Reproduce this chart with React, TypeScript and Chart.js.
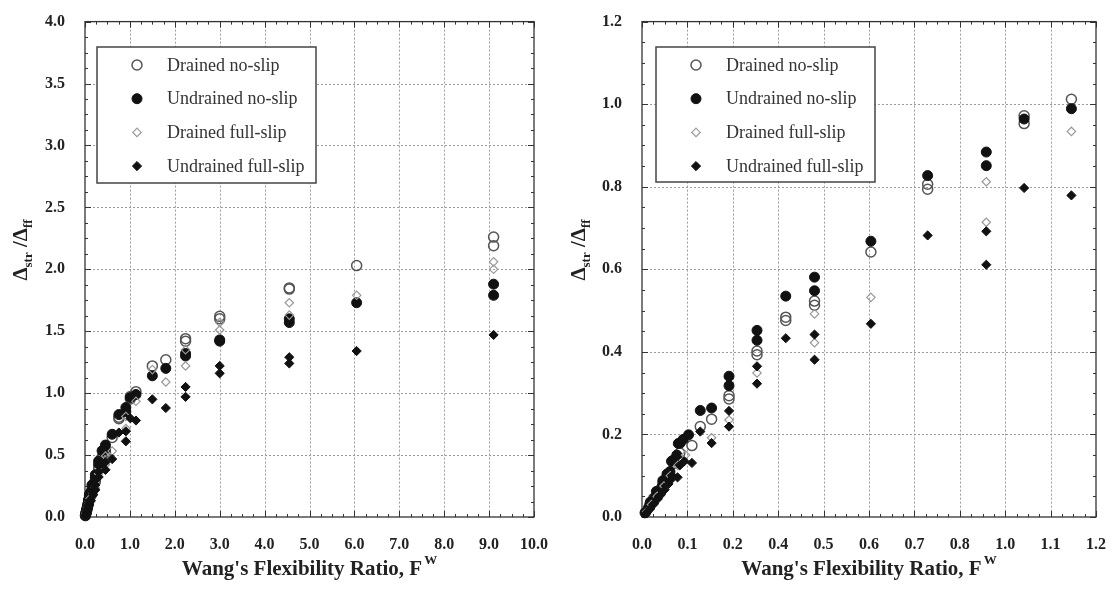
import React, { useEffect, useRef } from 'react';
import { Chart, registerables } from 'chart.js';

Chart.register(...registerables);

type Pt = [number, number];

// Normalised racking (Δstr/Δff) against Wang's flexibility ratio F^W.
// "Low" points lie in 0 ≤ F^W ≤ 1.2 and appear on both panels; "High" points only on the wide panel.
const drainedNoSlipLow: Pt[] = [
  [0.01, 0.012], [0.02, 0.028], [0.031, 0.045], [0.042, 0.06], [0.055, 0.08], [0.068, 0.1],
  [0.085, 0.13], [0.1, 0.155], [0.132, 0.173], [0.154, 0.219], [0.184, 0.237], [0.23, 0.294],
  [0.23, 0.286], [0.304, 0.402], [0.304, 0.393], [0.38, 0.484], [0.38, 0.476], [0.456, 0.523],
  [0.456, 0.513], [0.605, 0.642], [0.755, 0.806], [0.755, 0.794], [1.01, 0.972], [1.01, 0.953],
  [1.135, 1.012],
];
const drainedNoSlipHigh: Pt[] = [
  [1.5, 1.22], [1.8, 1.27], [2.24, 1.44], [2.24, 1.42], [3.0, 1.62], [3.0, 1.6],
  [4.55, 1.85], [4.55, 1.84], [6.05, 2.03], [9.1, 2.26], [9.1, 2.19],
];

const undrainedNoSlipLow: Pt[] = [
  [0.008, 0.01], [0.017, 0.022], [0.022, 0.036], [0.026, 0.035], [0.034, 0.047], [0.038, 0.062],
  [0.043, 0.06], [0.052, 0.072], [0.055, 0.088], [0.061, 0.088], [0.066, 0.104], [0.074, 0.11],
  [0.078, 0.135], [0.083, 0.138], [0.092, 0.15], [0.096, 0.178], [0.101, 0.179], [0.109, 0.188],
  [0.123, 0.199], [0.154, 0.258], [0.184, 0.264], [0.23, 0.341], [0.23, 0.318],
  [0.304, 0.452], [0.304, 0.428], [0.38, 0.535], [0.456, 0.581], [0.456, 0.548], [0.605, 0.668],
  [0.755, 0.827], [0.91, 0.884], [0.91, 0.851], [1.01, 0.964], [1.135, 0.989],
];
const undrainedNoSlipHigh: Pt[] = [
  [1.5, 1.14], [1.8, 1.2], [2.24, 1.32], [2.24, 1.3], [3.0, 1.43], [3.0, 1.42],
  [4.55, 1.6], [4.55, 1.57], [6.05, 1.73], [9.1, 1.88], [9.1, 1.79],
];

const drainedFullSlipLow: Pt[] = [
  [0.012, 0.012], [0.025, 0.03], [0.04, 0.05], [0.058, 0.075], [0.075, 0.1], [0.095, 0.125],
  [0.115, 0.15], [0.184, 0.192], [0.23, 0.235], [0.304, 0.349], [0.456, 0.492], [0.456, 0.422],
  [0.605, 0.532], [0.91, 0.812], [0.91, 0.714], [1.135, 0.934],
];
const drainedFullSlipHigh: Pt[] = [
  [1.5, 1.19], [1.8, 1.09], [2.24, 1.22], [2.24, 1.35], [3.0, 1.51], [3.0, 1.57],
  [4.55, 1.73], [4.55, 1.63], [6.05, 1.79], [9.1, 2.06], [9.1, 2.0],
];

const undrainedFullSlipLow: Pt[] = [
  [0.012, 0.01], [0.022, 0.02], [0.032, 0.032], [0.042, 0.044], [0.05, 0.054], [0.06, 0.066],
  [0.07, 0.08], [0.076, 0.09], [0.08, 0.1], [0.094, 0.096], [0.1, 0.125], [0.112, 0.135],
  [0.132, 0.131], [0.154, 0.207], [0.184, 0.179], [0.23, 0.257], [0.23, 0.219], [0.304, 0.365],
  [0.304, 0.323], [0.38, 0.433], [0.456, 0.442], [0.456, 0.381], [0.605, 0.468], [0.755, 0.682],
  [0.91, 0.692], [0.91, 0.611], [1.01, 0.797], [1.135, 0.779],
];
const undrainedFullSlipHigh: Pt[] = [
  [1.5, 0.95], [1.8, 0.88], [2.24, 1.05], [2.24, 0.97], [3.0, 1.22], [3.0, 1.16],
  [4.55, 1.29], [4.55, 1.24], [6.05, 1.34], [9.1, 1.47],
];

const seriesNames = ['Drained no-slip', 'Undrained no-slip', 'Drained full-slip', 'Undrained full-slip'];

// Axis ticks and their printed labels
const wideXTicks = [0, 1, 2, 3, 4, 5, 6, 7, 8, 9, 10];
const wideXLabels = ['0.0', '1.0', '2.0', '3.0', '4.0', '5.0', '6.0', '7.0', '8.0', '9.0', '10.0'];
const wideYTicks = [0, 0.5, 1, 1.5, 2, 2.5, 3, 3.5, 4];
const wideYLabels = ['0.0', '0.5', '1.0', '1.5', '2.0', '2.5', '3.0', '3.5', '4.0'];

const zoomXTicks = [0, 0.12, 0.24, 0.36, 0.48, 0.6, 0.72, 0.84, 0.96, 1.08, 1.2];
const zoomXLabels = ['0.0', '0.1', '0.2', '0.4', '0.5', '0.6', '0.7', '0.8', '1.0', '1.1', '1.2'];
const zoomYTicks = [0, 0.2, 0.4, 0.6, 0.8, 1.0, 1.2];
const zoomYLabels = ['0.0', '0.2', '0.4', '0.6', '0.8', '1.0', '1.2'];

const SERIF = "'Liberation Serif', 'Times New Roman', serif";

type Marker = { shape: 'circle' | 'diamond'; r: number; fill: string; stroke: string; lw: number };
const markers: Marker[] = [
  { shape: 'circle', r: 5, fill: 'rgba(255,255,255,0)', stroke: '#555', lw: 1.5 },
  { shape: 'circle', r: 5, fill: '#111', stroke: '#111', lw: 1 },
  { shape: 'diamond', r: 4.2, fill: 'rgba(255,255,255,0)', stroke: '#999', lw: 1.2 },
  { shape: 'diamond', r: 4.6, fill: '#111', stroke: '#111', lw: 1 },
];

type PanelCfg = {
  xMin: number; xMax: number; yMin: number; yMax: number;
  xTicks: number[]; xLabels: string[]; yTicks: number[]; yLabels: string[];
  series: Pt[][];
  yAxisWidth: number; padRight: number;
  legend: { x: number; y: number; w: number; h: number };
};

function drawMarker(ctx: CanvasRenderingContext2D, m: Marker, x: number, y: number) {
  ctx.beginPath();
  if (m.shape === 'circle') {
    ctx.arc(x, y, m.r, 0, Math.PI * 2);
  } else {
    ctx.moveTo(x, y - m.r);
    ctx.lineTo(x + m.r, y);
    ctx.lineTo(x, y + m.r);
    ctx.lineTo(x - m.r, y);
    ctx.closePath();
  }
  ctx.fillStyle = m.fill;
  ctx.fill();
  ctx.lineWidth = m.lw;
  ctx.strokeStyle = m.stroke;
  ctx.stroke();
}

function makeDecor(cfg: PanelCfg) {
  return {
    id: 'panelDecor',
    beforeDatasetsDraw(chart: any) {
      const { ctx, chartArea: a } = chart;
      const xs = chart.scales.x;
      const ys = chart.scales.y;
      ctx.save();
      // dotted grid at the major ticks
      ctx.strokeStyle = '#9c9c9c';
      ctx.lineWidth = 1;
      ctx.setLineDash([2, 2]);
      cfg.xTicks.slice(1, -1).forEach((v) => {
        const px = Math.round(xs.getPixelForValue(v)) + 0.5;
        ctx.beginPath(); ctx.moveTo(px, a.top); ctx.lineTo(px, a.bottom); ctx.stroke();
      });
      cfg.yTicks.slice(1, -1).forEach((v) => {
        const py = Math.round(ys.getPixelForValue(v)) + 0.5;
        ctx.beginPath(); ctx.moveTo(a.left, py); ctx.lineTo(a.right, py); ctx.stroke();
      });
      ctx.setLineDash([]);
      // inward major and minor ticks on all four sides
      ctx.strokeStyle = '#333';
      ctx.lineWidth = 1;
      const tickX = (v: number, len: number) => {
        const px = Math.round(xs.getPixelForValue(v)) + 0.5;
        ctx.beginPath();
        ctx.moveTo(px, a.bottom); ctx.lineTo(px, a.bottom - len);
        ctx.moveTo(px, a.top); ctx.lineTo(px, a.top + len);
        ctx.stroke();
      };
      const tickY = (v: number, len: number) => {
        const py = Math.round(ys.getPixelForValue(v)) + 0.5;
        ctx.beginPath();
        ctx.moveTo(a.left, py); ctx.lineTo(a.left + len, py);
        ctx.moveTo(a.right, py); ctx.lineTo(a.right - len, py);
        ctx.stroke();
      };
      cfg.xTicks.forEach((v, i) => {
        tickX(v, 6);
        const n = cfg.xTicks[i + 1];
        if (n !== undefined) for (let k = 1; k < 4; k++) tickX(v + ((n - v) * k) / 4, 3);
      });
      cfg.yTicks.forEach((v, i) => {
        tickY(v, 6);
        const n = cfg.yTicks[i + 1];
        if (n !== undefined) for (let k = 1; k < 4; k++) tickY(v + ((n - v) * k) / 4, 3);
      });
      // plot frame
      ctx.lineWidth = 1.3;
      ctx.strokeStyle = '#333';
      ctx.strokeRect(a.left, a.top, a.right - a.left, a.bottom - a.top);
      ctx.restore();
    },
    afterDraw(chart: any) {
      const { ctx, chartArea: a } = chart;
      ctx.save();
      // legend box
      const L = cfg.legend;
      ctx.fillStyle = '#fff';
      ctx.fillRect(L.x, L.y, L.w, L.h);
      ctx.strokeStyle = '#444';
      ctx.lineWidth = 1.5;
      ctx.strokeRect(L.x, L.y, L.w, L.h);
      ctx.font = `18px ${SERIF}`;
      ctx.textBaseline = 'middle';
      ctx.textAlign = 'left';
      seriesNames.forEach((name, i) => {
        const cy = L.y + 18 + i * 33.7;
        drawMarker(ctx, markers[i], L.x + 40, cy);
        ctx.fillStyle = '#333';
        ctx.fillText(name, L.x + 70, cy + 1);
      });

      // x-axis title with superscript
      ctx.fillStyle = '#222';
      ctx.textBaseline = 'alphabetic';
      const main = "Wang's Flexibility Ratio, F";
      ctx.font = `bold 21px ${SERIF}`;
      const wMain = ctx.measureText(main).width;
      ctx.font = `bold 13px ${SERIF}`;
      const wSup = ctx.measureText('W').width;
      const cx = (a.left + a.right) / 2;
      const sx = cx - (wMain + wSup + 2) / 2;
      const by = 575;
      ctx.font = `bold 21px ${SERIF}`;
      ctx.fillText(main, sx, by);
      ctx.font = `bold 13px ${SERIF}`;
      ctx.fillText('W', sx + wMain + 2, by - 11);

      // y-axis title with subscripts, rotated
      ctx.save();
      ctx.translate(27, 250);
      ctx.rotate(-Math.PI / 2);
      const parts: [string, number, number][] = [
        ['Δ', 21, 0], ['str', 13, 5], [' /Δ', 21, 0], ['ff', 13, 5],
      ];
      let total = 0;
      parts.forEach(([t, s]) => { ctx.font = `bold ${s}px ${SERIF}`; total += ctx.measureText(t).width; });
      let px = -total / 2;
      parts.forEach(([t, s, dy]) => {
        ctx.font = `bold ${s}px ${SERIF}`;
        ctx.fillText(t, px, dy);
        px += ctx.measureText(t).width;
      });
      ctx.restore();
      ctx.restore();
    },
  };
}

function Panel({ left, cfg }: { left: number; cfg: PanelCfg }) {
  const ref = useRef<HTMLCanvasElement>(null);
  useEffect(() => {
    const tickFont = { family: SERIF, size: 16, weight: 'bold' as const };
    const chart = new Chart(ref.current as HTMLCanvasElement, {
      type: 'scatter',
      data: {
        datasets: cfg.series
          .map((pts, i) => ({
            label: seriesNames[i],
            data: pts.map(([x, y]) => ({ x, y })),
            pointStyle: markers[i].shape === 'circle' ? 'circle' : 'rectRot',
            pointRadius: markers[i].r,
            backgroundColor: markers[i].fill,
            borderColor: markers[i].stroke,
            borderWidth: markers[i].lw,
            clip: false as any,
          }))
          .reverse(),
      },
      options: {
        responsive: false,
        animation: false,
        devicePixelRatio: 1,
        events: [],
        layout: { padding: { left: 0, right: cfg.padRight, top: 12, bottom: 0 } },
        plugins: { legend: { display: false }, tooltip: { enabled: false } },
        scales: {
          x: {
            type: 'linear',
            min: cfg.xMin,
            max: cfg.xMax,
            afterBuildTicks: (s: any) => { s.ticks = cfg.xTicks.map((v) => ({ value: v })); },
            afterFit: (s: any) => { s.height = 75; },
            grid: { display: false },
            border: { display: false },
            ticks: {
              autoSkip: false, maxRotation: 0, padding: 10, color: '#222', font: tickFont,
              callback: (_v: any, i: number) => cfg.xLabels[i],
            },
          },
          y: {
            type: 'linear',
            min: cfg.yMin,
            max: cfg.yMax,
            afterBuildTicks: (s: any) => { s.ticks = cfg.yTicks.map((v) => ({ value: v })); },
            afterFit: (s: any) => { s.width = cfg.yAxisWidth; },
            grid: { display: false },
            border: { display: false },
            ticks: {
              autoSkip: false, padding: 12, color: '#222', font: tickFont,
              callback: (_v: any, i: number) => cfg.yLabels[i],
            },
          },
        },
      },
      plugins: [makeDecor(cfg)],
    } as any);
    return () => chart.destroy();
  }, []);
  return (
    <canvas
      ref={ref}
      width={558}
      height={592}
      style={{ position: 'absolute', left, top: 0, width: 558, height: 592, display: 'block' }}
    />
  );
}

const widePanel: PanelCfg = {
  xMin: 0, xMax: 10, yMin: 0, yMax: 4,
  xTicks: wideXTicks, xLabels: wideXLabels, yTicks: wideYTicks, yLabels: wideYLabels,
  series: [
    drainedNoSlipLow.concat(drainedNoSlipHigh),
    undrainedNoSlipLow.concat(undrainedNoSlipHigh),
    drainedFullSlipLow.concat(drainedFullSlipHigh),
    undrainedFullSlipLow.concat(undrainedFullSlipHigh),
  ],
  yAxisWidth: 85, padRight: 19,
  legend: { x: 97, y: 47, w: 219, h: 136 },
};

const zoomPanel: PanelCfg = {
  xMin: 0, xMax: 1.2, yMin: 0, yMax: 1.2,
  xTicks: zoomXTicks, xLabels: zoomXLabels, yTicks: zoomYTicks, yLabels: zoomYLabels,
  series: [drainedNoSlipLow, undrainedNoSlipLow, drainedFullSlipLow, undrainedFullSlipLow],
  yAxisWidth: 84, padRight: 20,
  legend: { x: 98, y: 47, w: 219, h: 135 },
};

export default function App() {
  return (
    <div style={{ position: 'fixed', left: 0, top: 0, width: 1116, height: 592, background: '#fff', overflow: 'hidden' }}>
      <Panel left={0} cfg={widePanel} />
      <Panel left={558} cfg={zoomPanel} />
    </div>
  );
}
